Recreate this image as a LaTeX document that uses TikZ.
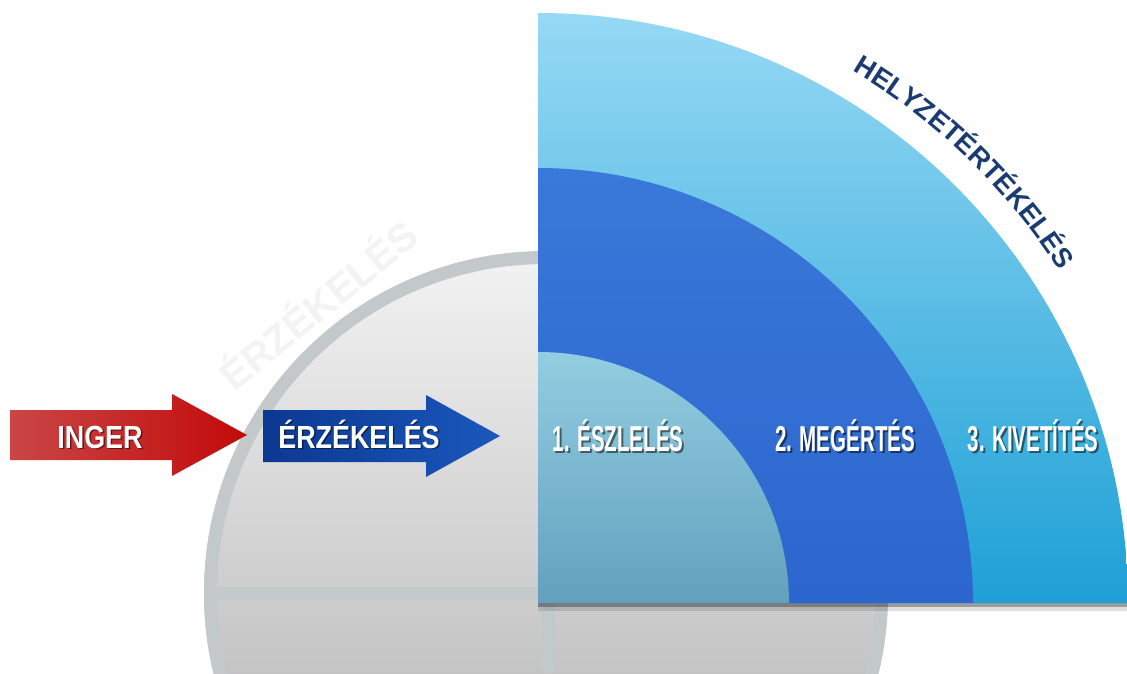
\documentclass[tikz,border=0pt]{standalone}
\usepackage{fontspec}
\setmainfont{Liberation Sans}
\usetikzlibrary{decorations.text}
\definecolor{ringc}{HTML}{C3C8CB}
\definecolor{disctop}{HTML}{F3F3F3}
\definecolor{discbot}{HTML}{C4C4C4}
\definecolor{outtop}{HTML}{96D9F4}
\definecolor{outbot}{HTML}{1EA0D6}
\definecolor{midtop}{HTML}{3A78D9}
\definecolor{midbot}{HTML}{2C66CE}
\definecolor{inntop}{HTML}{92CDE1}
\definecolor{innbot}{HTML}{62A0BD}
\definecolor{redl}{HTML}{CA4646}
\definecolor{redr}{HTML}{C20A0A}
\definecolor{bluel}{HTML}{0C3891}
\definecolor{bluer}{HTML}{1A58BD}
\definecolor{helyc}{HTML}{1B3C72}
\definecolor{wmc}{HTML}{F3F3F3}
\newcommand\arrowlbl[1]{\scalebox{0.84}[1]{#1}}
\newcommand\stagelbl[1]{\scalebox{0.57}[1]{#1}}
\newcommand\helyfont{\bfseries\fontsize{27.5}{27.5}\selectfont\color{helyc}}
\tikzset{
  arrowtxt/.style={anchor=base, text=white, inner sep=0pt, font=\bfseries\fontsize{32}{32}\selectfont},
  stagetxt/.style={anchor=base, text=white, inner sep=0pt, font=\bfseries\fontsize{36}{36}\selectfont},
  shadowtxt/.style={text=black, text opacity=0.5},
  ringline/.style={draw=ringc, line width=13pt}
}
\begin{document}
\begin{tikzpicture}[x=1pt,y=1pt]
\useasboundingbox (0,0) rectangle (1127,673);
\clip (0,0) rectangle (1127,673);
\fill[white] (0,0) rectangle (1127,673);
\coordinate (C) at (546,80);
\coordinate (O) at (538,70);
% faint watermark
\node[font=\bfseries\fontsize{40}{40}\selectfont, text=wmc, rotate=39, inner sep=0pt] (wm) at (317,370) {ÉRZÉKELÉS};
% grey disc
\begin{scope}
  \clip (C) circle[radius=342pt];
  \shade[top color=disctop, bottom color=discbot] (200,0) rectangle (890,425);
  \draw[ringline] (200,79.5) -- (890,79.5);
  \draw[ringline] (548,0) -- (548,425);
\end{scope}
\draw[ringline] (C) circle[radius=335.5pt];
% shadow under quarter disc
\fill[black, opacity=0.12] (538,62) rectangle (1127,70);
\fill[black, opacity=0.3] (538,66) rectangle (1127,70);
% quarter discs
\shade[top color=outtop, bottom color=outbot] (O) -- ++(90:590pt) arc[start angle=90, end angle=0, radius=590pt] -- cycle;
\shade[top color=midtop, bottom color=midbot] (O) -- ++(90:435pt) arc[start angle=90, end angle=0, radius=435pt] -- cycle;
\shade[top color=inntop, bottom color=innbot] (O) -- ++(90:251pt) arc[start angle=90, end angle=0, radius=251pt] -- cycle;
% arrows
\shade[left color=redl, right color=redr] (10,213) -- (172,213) -- (172,197) -- (247,238) -- (172,279) -- (172,263) -- (10,263) -- cycle;
\shade[left color=bluel, right color=bluer] (263,211) -- (426,211) -- (426,196) -- (500,237) -- (426,278) -- (426,263) -- (263,263) -- cycle;
% arrow labels
\node[arrowtxt, shadowtxt] (inger-s) at (101.5,223.5) {\arrowlbl{INGER}};
\node[arrowtxt] (inger) at (100,225) {\arrowlbl{INGER}};
\node[arrowtxt, shadowtxt] (erz-s) at (360.5,223.5) {\arrowlbl{ÉRZÉKELÉS}};
\node[arrowtxt] (erz) at (359,225) {\arrowlbl{ÉRZÉKELÉS}};
% stage labels
\node[stagetxt, shadowtxt] (s1-s) at (620,220) {\stagelbl{1. ÉSZLELÉS}};
\node[stagetxt] (s1) at (618,222) {\stagelbl{1. ÉSZLELÉS}};
\node[stagetxt, shadowtxt] (s2-s) at (847,220) {\stagelbl{2. MEGÉRTÉS}};
\node[stagetxt] (s2) at (845,222) {\stagelbl{2. MEGÉRTÉS}};
\node[stagetxt, shadowtxt] (s3-s) at (1035,220) {\stagelbl{3. KIVETÍTÉS}};
\node[stagetxt] (s3) at (1033,222) {\stagelbl{3. KIVETÍTÉS}};
% curved title
\path[decorate, decoration={text along path, text align=center, text={|\helyfont|HELYZETÉRTÉKELÉS}}]
  (O) ++(72:618pt) arc[start angle=72, end angle=20, radius=618pt];
\end{tikzpicture}
\end{document}
